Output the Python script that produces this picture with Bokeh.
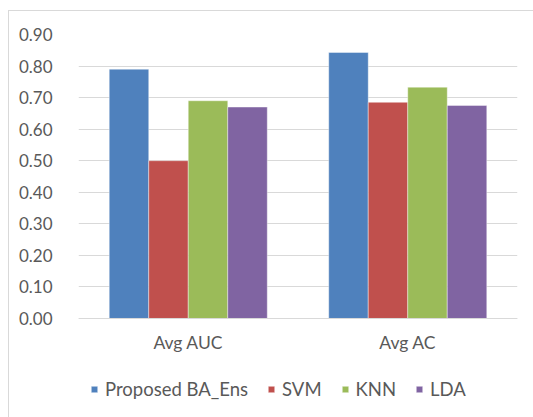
from bokeh.plotting import figure
from bokeh.models import FactorRange, Range1d, FixedTicker, NumeralTickFormatter, Legend, LegendItem
from bokeh.transform import dodge
from bokeh.embed import file_html
from bokeh.resources import INLINE

categories = ["Avg AUC", "Avg AC"]
series = ["Proposed BA_Ens", "SVM", "KNN", "LDA"]
proposed = [0.79, 0.843]
svm = [0.50, 0.685]
knn = [0.69, 0.733]
lda = [0.67, 0.675]
yticks = [0.0, 0.1, 0.2, 0.3, 0.4, 0.5, 0.6, 0.7, 0.8, 0.9]

colors = ["#4F81BD", "#C0504D", "#9BBB59", "#8064A2"]
values = [proposed, svm, knn, lda]
FONT = "Lato"
TXT = "#595959"

p = figure(width=525, height=407, x_range=FactorRange(*categories, range_padding=0),
           y_range=Range1d(-0.317, 0.9), output_backend="svg", toolbar_location=None,
           min_border_left=69, min_border_right=17, min_border_top=23, min_border_bottom=0,
           margin=(10, 0, 0, 8),
           styles={"border-left": "1px solid #D9D9D9", "border-top": "1px solid #D9D9D9"})
p.outline_line_color = None
p.background_fill_color = "white"
p.border_fill_color = "white"

src = {"cat": categories}
for s, v in zip(series, values):
    src[s] = v

bw = 0.18
offsets = [-0.27, -0.09, 0.09, 0.27]
items = []
for s, c, off in zip(series, colors, offsets):
    r = p.vbar(x=dodge("cat", off, range=p.x_range), top=s, width=bw, source=src,
               fill_color=c, line_color="white", line_alpha=0.5, line_width=0.8)
    items.append(LegendItem(label=s, renderers=[r]))

p.xgrid.grid_line_color = None
p.ygrid.grid_line_color = "#D9D9D9"
p.ygrid.grid_line_width = 1.2
p.ygrid.ticker = FixedTicker(ticks=yticks)

p.yaxis.ticker = FixedTicker(ticks=yticks)
p.yaxis.formatter = NumeralTickFormatter(format="0.00")
p.yaxis.axis_line_color = None
p.yaxis.major_tick_line_color = None
p.yaxis.minor_tick_line_color = None
p.yaxis.major_label_standoff = 20
p.yaxis.major_label_text_font = FONT
p.yaxis.major_label_text_font_size = "17px"
p.yaxis.major_label_text_color = TXT

p.xaxis.fixed_location = 0
p.xaxis.axis_line_color = "#D9D9D9"
p.xaxis.axis_line_width = 1.2
p.xaxis.major_tick_line_color = None
p.xaxis.minor_tick_line_color = None
p.xaxis.major_label_standoff = 8
p.xaxis.major_label_text_font = FONT
p.xaxis.major_label_text_font_size = "17.5px"
p.xaxis.major_label_text_color = TXT

legend = Legend(items=items, orientation="horizontal", location=(12, 18),
                background_fill_alpha=0, border_line_color=None, padding=0, margin=0,
                spacing=19, label_standoff=7, glyph_width=8, glyph_height=8,
                label_text_font=FONT, label_text_font_size="18.5px", label_text_color=TXT)
p.add_layout(legend, "center")

open("out.html", "w").write(file_html(p, INLINE))
